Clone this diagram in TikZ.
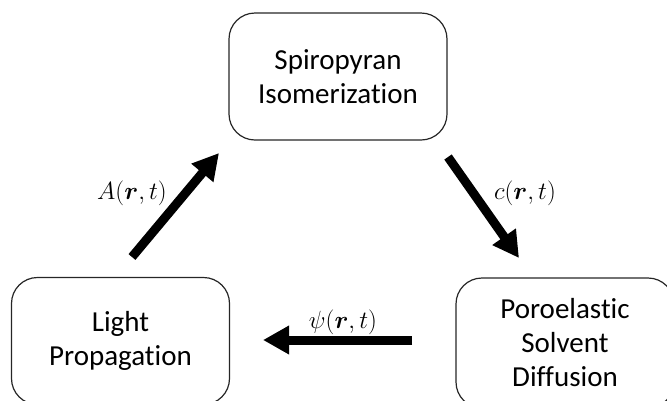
\documentclass[tikz,border=0pt]{standalone}
\usepackage{fontspec}
\setmainfont[Ligatures=NoCommon]{Carlito}
\usepackage{amsmath}
\usepackage{bm}
\usetikzlibrary{arrows.meta}
\begin{document}
\begin{tikzpicture}[x=1pt,y=-1pt,
  procbox/.style={draw=black!85, line width=1.2pt, rounded corners=26pt,
    minimum width=218pt, minimum height=127pt, align=center,
    font=\fontsize{29}{34}\selectfont, inner sep=0pt},
  flow/.style={line width=9pt, -{Triangle[length=26pt,width=27pt]}},
  lbl/.style={font=\fontsize{23}{26}\selectfont, inner sep=0pt}]
\useasboundingbox (0,0) rectangle (667,400);
\clip (0,0) rectangle (667,400);
\node[procbox] (spiro) at (338,76.5) {Spiropyran\\Isomerization};
\node[procbox] (light) at (120.5,341) {Light\\Propagation};
\node[procbox, minimum height=130pt] (poro) at (565,343) {Poroelastic\\Solvent\\Diffusion};
\coordinate (a1) at (132,257);
\coordinate (a2) at (219,153);
\coordinate (c1) at (448,157);
\coordinate (c2) at (519,258);
\coordinate (p1) at (412,340);
\coordinate (p2) at (263,340);
\draw[flow] (a1) -- (a2);
\draw[flow] (c1) -- (c2);
\draw[flow] (p1) -- (p2);
\node[lbl] (la) at (132,193) {$A(\bm{r},t)$};
\node[lbl] (lc) at (525,193) {$c(\bm{r},t)$};
\node[lbl] (lp) at (343,322) {$\psi(\bm{r},t)$};
\end{tikzpicture}
\end{document}
